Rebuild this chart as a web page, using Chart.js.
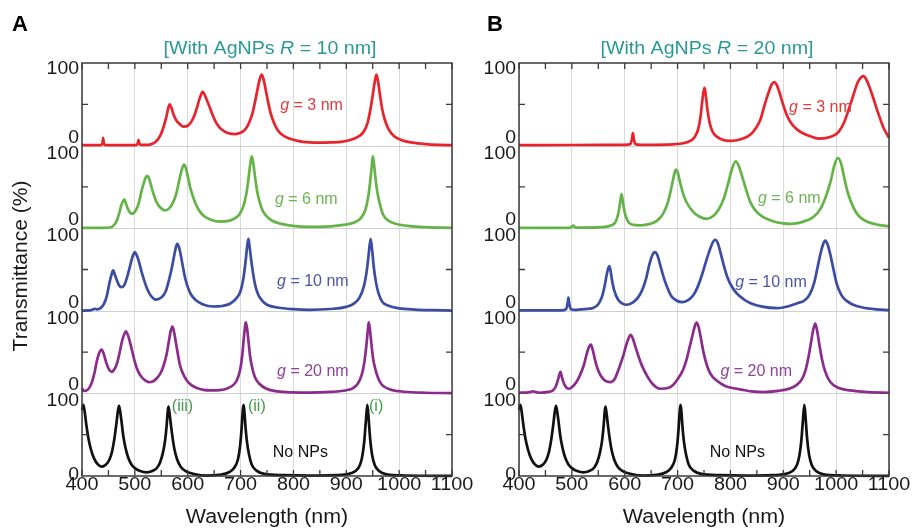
<!DOCTYPE html>
<html>
<head>
<meta charset="utf-8">
<script src="https://cdn.jsdelivr.net/npm/chart.js@4.4.1/dist/chart.umd.min.js"></script>
<style>
  html, body { margin: 0; padding: 0; background: #ffffff; }
  #wrap { position: relative; width: 912px; height: 530px; }
  #wrap canvas { position: absolute; left: 0; top: 0; }
</style>
</head>
<body>
<div id="wrap">
  <canvas id="panelA" width="912" height="530"></canvas>
  <canvas id="panelB" width="912" height="530"></canvas>
</div>
<script>
// ---- axis ticks ----
const wavelengthTicks = [400, 500, 600, 700, 800, 900, 1000, 1100];
const transmittanceTicks = [0, 100];

// ---- gap sizes of the four AgNP curves (nm), top to bottom ----
const gapSizes = [3, 6, 10, 20];

// ---- transmittance spectra: [wavelength (nm), T (%)] ----
const noNPs = [[400,80],[402.5,86],[405,78],[408,63],[412,46],[417,32],[423,21],[430,14],[437,11.3],[445,13.5],[452,20],[457,30],[461,44],[465,63],[468,79],[470,85],[472,79],[475,65],[478,49],[482,35],[487,23],[493,14.5],[500,9.5],[510,6],[522,4.4],[533,6],[542,10],[548,17],[553,28],[557,42],[560,60],[562,77],[563.5,84],[565,79],[568,63],[571,48],[575,32],[580,20],[587,11],[596,6],[610,2.8],[636,0.5],[660,1.5],[678,4.5],[688,10],[695,20],[699,36],[702,58],[704,78],[705.5,86],[707,80],[709,62],[712,42],[716,26],[721,14],[730,6.5],[745,2.5],[780,1],[830,0.5],[880,1],[910,3.5],[922,9],[929,20],[934,42],[937,66],[939.8,86],[942,72],[945,46],[949,25],[954,13],[962,6],[976,2],[1010,0.6],[1100,0.2]];

// R = 10 nm
const r10g3 = [[400,0.5],[430,0.5],[437,0.8],[439,4],[440,9.5],[441,4],[443,0.8],[460,0.5],[500,0.6],[504,1.2],[506,4],[507,6.8],[508,4],[510,1.2],[520,0.8],[530,1.5],[540,5],[548,12],[555,24],[560,36],[563,45],[566,50],[569,46],[573,38],[578,31],[585,26],[592,23],[600,24],[607,29],[613,37],[618,47],[622,56],[626,63],[628,65],[631,63],[635,57],[640,49],[646,39],[652,30],[660,22],[670,17],[680,14.5],[690,14],[700,15.5],[708,19],[715,26],[722,38],[728,55],[732,68],[736,80],[740,86],[744,79],[748,66],[752,53],[757,39],[763,28],[770,19],[780,12.5],[792,8.5],[810,5.5],[830,4],[850,3.5],[870,3.8],[890,4.5],[905,6.5],[920,10],[932,16],[940,27],[946,45],[950,61],[954,78],[957,86],[960,78],[964,60],[968,44],[973,31],[980,20],[990,11.5],[1005,6.5],[1025,3.6],[1050,1.8],[1075,0.9],[1100,0.5]];
const r10g6 = [[400,0.3],[440,0.4],[455,1.2],[460,3.5],[465,8],[470,17],[474,27],[477,32],[480,35],[483,30],[487,23],[491,19],[494,17.5],[498,18.5],[503,23],[508,32],[513,46],[518,57],[521,62],[524,63],[527,60],[531,51],[536,40],[541,31.5],[548,25],[557,21.5],[565,24],[572,31],[578,41],[584,58],[588,69],[591,75],[593,77],[596,74],[600,63],[604,51],[609,40],[614,31],[621,22],[630,15],[645,10],[661,8],[675,8.5],[688,11.5],[698,17],[706,28],[711,42],[715,60],[718,76],[721,87],[724,79],[727,64],[731,46],[736,32],[742,21],[750,14],[760,9],[775,5.5],[795,3.2],[830,1.6],[870,2.2],[895,4],[915,7],[928,12.5],[936,22],[941,36],[945,55],[948,74],[950,87],[952,80],[955,62],[959,43],[964,28],[970,16],[980,9],[995,5],[1020,2.5],[1050,1.3],[1100,0.4]];
const r10g10 = [[400,0.3],[415,0.5],[422,2],[425,2.5],[428,1.8],[435,3.2],[442,9],[447,18],[451,31],[455,42],[459,49],[462,44],[466,37],[470,31],[475,28.5],[480,31],[485,40],[490,52],[494,62],[497,68],[500,71],[503,68],[507,61],[512,49],[517,38],[523,27],[530,18.5],[540,13.5],[550,16],[558,23],[564,36],[569,49],[573,62],[577,75],[580,81],[583,78],[587,67],[591,53],[595,40],[600,29],[606,20],[615,13],[628,8],[648,5.2],[665,5.8],[680,8.5],[692,15],[700,24],[706,42],[710,63],[713,81],[715,87],[717,78],[720,62],[723,48],[727,33],[733,20],[740,13],[750,7.3],[770,4],[800,2],[830,1.2],[870,2.2],[900,4.8],[915,9],[925,16],[933,29],[938,45],[942,66],[946,87],[949,73],[952,53],[956,35],[961,21],[968,11],[980,6],[1000,3],[1030,1.5],[1060,0.8],[1100,0.3]];
const r10g20 = [[400,6],[404,3],[409,3.6],[414,7],[419,14],[424,26],[428,39],[432,48],[437,53],[441,48],[446,37],[451,29],[456,26],[461,29],[467,38],[472,52],[476,64],[480,72],[483,75],[486,72],[490,64],[495,51],[500,38],[506,27],[513,19.5],[520,15.5],[526,13.7],[534,14.5],[541,18],[549,25],[555,35],[560,47],[564,62],[568,76],[571,81],[574,75],[577,64],[581,49],[585,35],[591,24],[598,16],[607,10],[617,6.5],[630,4.2],[642,3.6],[660,4],[675,6],[686,10],[693,16],[699,28],[703,45],[706,66],[709,84],[710,86],[712,80],[715,63],[718,45],[722,31],[727,20],[735,12],[749,5.6],[770,2.5],[800,1.2],[830,0.9],[870,1.8],[900,3.8],[913,6.5],[922,12],[929,22],[934,37],[938,58],[941,78],[942.5,86],[945,76],[948,57],[951,41],[956,27],[961,17.5],[968,10],[983,4.8],[1010,2],[1050,0.8],[1100,0.4]];

// R = 20 nm
const r20g3 = [[400,0.6],[500,0.7],[600,0.9],[611,2],[614,9],[615.5,15],[617,9],[620,2],[630,0.9],[680,1.2],[710,2.8],[725,6],[733,11],[739,20],[743,33],[746,50],[749,65],[751,70],[753,63],[756,46],[759,33],[763,22],[768,15],[775,10.5],[785,7],[799,5.6],[812,6.5],[825,8.8],[838,13.5],[848,21],[857,32],[865,50],[872,64],[878,74],[883,77],[888,73],[893,64],[899,51],[906,38],[915,27],[927,19],[940,14],[955,10.5],[967,8.5],[980,9],[995,12],[1005,17],[1015,28],[1024,44],[1033,62],[1041,77],[1048,83],[1052,84],[1057,80],[1063,71],[1069,60],[1076,46],[1083,33],[1090,21],[1100,9.5]];
const r20g6 = [[400,0.3],[495,0.5],[500,2],[503,3],[506,1],[520,0.6],[555,1.2],[575,3.5],[583,8],[588,18],[591,30],[594,41.6],[597,30],[600,19],[605,9.5],[613,4.5],[630,3.5],[648,5.2],[662,9.5],[673,18],[682,32],[689,51],[694,66],[697,71],[700,68],[706,52],[713,37],[721,27],[730,19.5],[740,14.5],[755,11.3],[768,15],[778,23],[787,35],[796,55],[803,72],[810,81],[816,75],[822,63],[830,46],[838,31],[848,21],[862,13.3],[880,8.5],[900,5.8],[913,5.2],[930,6.5],[945,9.5],[957,13.5],[970,23],[982,41],[990,58],[997,77],[1003,85],[1009,79],[1015,62],[1020,48],[1028,32],[1037,20],[1046,13],[1060,7.5],[1080,4],[1100,2.4]];
const r20g10 = [[400,0.4],[480,0.5],[489,2],[492,9],[493.5,16],[495,9],[498,2],[505,1],[525,2],[540,3.5],[550,8],[557,17],[562,30],[566,44],[569,52],[571,54],[573,49],[576,37],[580,25],[587,14],[595,9],[604,7.3],[615,10],[625,16],[633,25],[640,38],[647,57],[652,67],[657,71],[662,67],[667,56],[673,42],[680,29],[688,18],[698,12.5],[708,10.5],[720,13],[730,19],[738,29],[746,43],[753,58],[760,72],[766,82],[771,86],[776,82],[781,71],[787,56],[794,41],[802,30],[812,21],[825,14],[837,9.5],[860,5],[888,3.2],[910,5.5],[928,9.5],[940,12.5],[950,20],[958,33],[964,50],[970,68],[975,80],[979.5,85],[984,80],[989,68],[995,50],[1001,33],[1010,19],[1020,12],[1030,8],[1050,4],[1075,1.8],[1100,0.8]];
const r20g20 = [[400,0.8],[415,1],[422,1.8],[427,2.4],[432,1.5],[440,0.8],[455,1.8],[464,3.6],[470,9],[474,17],[477,24],[478.6,26],[481,20],[485,12],[489,7.5],[493,5.6],[500,7.5],[509,14],[516,23],[523,35],[529,50],[533,57],[536,59],[539,54],[543,43],[548,31],[555,21],[563,15.5],[572,13.7],[581,17.5],[590,32],[597,45],[603,59],[608,68],[611,71],[615,67],[620,57],[626,45],[633,33],[642,21.5],[652,12],[667,5.6],[682,6.5],[692,10.5],[700,17],[710,28],[717,41],[722,54],[727,67],[732,80],[736,85.6],[740,80],[744,67],[749,50],[755,35],[762,24],[774,15.5],[790,9],[812,5.6],[840,2.5],[863,1.6],[890,3],[910,5.5],[925,10],[935,17],[942,28],[948,45],[953,64],[957,78],[960.5,84.4],[964,76],[968,60],[973,42],[979,27],[989,13.7],[1005,6.5],[1027,3.6],[1060,1.5],[1100,0.8]];

// ---- styling ----
const FONT = '"Liberation Sans", Arial, Helvetica, sans-serif';
const curveColors = ['#e8232b', '#63b347', '#3b4ca3', '#8b2c8d', '#111111'];
const labelColors = ['#e23a3a', '#6cb451', '#4a55a6', '#90409a', '#111111'];
const titleColor = '#2a9897';
const markerColor = '#3f9a4a';
const frameColor = '#3a3a3a';

function drawRich(ctx, segs, x, y, o) {
  const size = o.size, weight = o.weight || 'normal', sx = o.sx || 1;
  ctx.save();
  ctx.translate(x, y);
  if (o.rotate) ctx.rotate(o.rotate);
  ctx.scale(sx, 1);
  ctx.textBaseline = o.baseline || 'middle';
  ctx.textAlign = 'left';
  ctx.fillStyle = o.color || '#1a1a1a';
  const fontFor = s => (s.italic ? 'italic ' : '') + weight + ' ' + size + 'px ' + FONT;
  let total = 0;
  segs.forEach(s => { ctx.font = fontFor(s); total += ctx.measureText(s.t).width; });
  let cx = o.align === 'center' ? -total / 2 : (o.align === 'right' ? -total : 0);
  segs.forEach(s => { ctx.font = fontFor(s); ctx.fillText(s.t, cx, 0); cx += ctx.measureText(s.t).width; });
  ctx.restore();
}

const bandIds = ['band0', 'band1', 'band2', 'band3', 'band4'];

// frame, inward ticks, band separators and all text of one panel
const panelDecor = {
  id: 'panelDecor',
  beforeDatasetsDraw(chart) {
    const { ctx, chartArea: a } = chart;
    ctx.save();
    ctx.strokeStyle = '#cfcfcf';
    ctx.lineWidth = 1;
    bandIds.slice(0, 4).forEach(id => {
      const y = Math.round(chart.scales[id].getPixelForValue(0)) + 0.5;
      ctx.beginPath(); ctx.moveTo(a.left, y); ctx.lineTo(a.right, y); ctx.stroke();
    });
    ctx.restore();
  },
  afterDatasetsDraw(chart, args, opts) {
    const { ctx, chartArea: a } = chart;
    const xs = chart.scales.x;
    ctx.save();
    ctx.strokeStyle = frameColor;
    ctx.lineWidth = 1.5;
    ctx.strokeRect(a.left, a.top, a.right - a.left, a.bottom - a.top);
    ctx.lineWidth = 1.3;
    const tl = 6;
    const minor = [];
    wavelengthTicks.forEach((v, i) => {
      minor.push(v);
      if (i < wavelengthTicks.length - 1) minor.push((v + wavelengthTicks[i + 1]) / 2);
    });
    minor.forEach(v => {
      const px = xs.getPixelForValue(v);
      ctx.beginPath();
      ctx.moveTo(px, a.top); ctx.lineTo(px, a.top + tl);
      ctx.moveTo(px, a.bottom); ctx.lineTo(px, a.bottom - tl);
      ctx.stroke();
    });
    bandIds.forEach(id => {
      const py = chart.scales[id].getPixelForValue(50);
      ctx.beginPath();
      ctx.moveTo(a.left, py); ctx.lineTo(a.left + tl, py);
      ctx.moveTo(a.right, py); ctx.lineTo(a.right - tl, py);
      ctx.stroke();
    });
    ctx.restore();
  },
  afterDraw(chart, args, opts) {
    const { ctx, chartArea: a } = chart;
    const xs = chart.scales.x;
    // wavelength tick labels
    wavelengthTicks.forEach(v => {
      drawRich(ctx, [{ t: String(v) }], xs.getPixelForValue(v), a.bottom + 9,
        { size: 18, sx: 1.1, align: 'center' });
    });
    // transmittance tick labels for every band
    bandIds.forEach((id, i) => {
      const s = chart.scales[id];
      const top = s.getPixelForValue(transmittanceTicks[1]);
      const bot = s.getPixelForValue(transmittanceTicks[0]);
      drawRich(ctx, [{ t: String(transmittanceTicks[1]) }], a.left - 3, top + (i === 0 ? 6 : 8),
        { size: 18, sx: 1.08, align: 'right' });
      drawRich(ctx, [{ t: String(transmittanceTicks[0]) }], a.left - 3, bot + (i === 4 ? -1 : -8),
        { size: 18, sx: 1.08, align: 'right' });
    });
    // axis title and panel heading
    drawRich(ctx, [{ t: 'Wavelength (nm)' }], (a.left + a.right) / 2, a.bottom + 42,
      { size: 19.5, sx: 1.1, align: 'center' });
    drawRich(ctx, opts.title, (a.left + a.right) / 2 + opts.titleShift, 49,
      { size: 17.5, sx: 1.12, align: 'center', color: titleColor });
    drawRich(ctx, [{ t: opts.letter }], opts.letterX, 25,
      { size: 22, weight: 'bold', align: 'center', color: '#000' });
    if (opts.yTitle) {
      drawRich(ctx, [{ t: 'Transmittance (%)' }], 21, 266,
        { size: 20, sx: 1.05, align: 'center', rotate: -Math.PI / 2 });
    }
    // curve labels
    opts.labels.forEach(l => {
      const s = chart.scales[bandIds[l.band]];
      drawRich(ctx, l.segs, xs.getPixelForValue(l.at[0]), s.getPixelForValue(l.at[1]),
        { size: 16, align: 'left', color: l.color });
    });
  }
};

function gapLabel(g) { return [{ t: 'g', italic: true }, { t: ' = ' + g + ' nm' }]; }

function buildPanel(canvasId, series, pad, deco) {
  const scales = {
    x: {
      type: 'linear', min: 400, max: 1100,
      afterBuildTicks: s => { s.ticks = wavelengthTicks.map(v => ({ value: v })); },
      grid: { color: '#d9d9d9', lineWidth: 1, drawTicks: false },
      border: { display: false },
      ticks: { display: false },
      afterFit: s => { s.height = 0; }
    }
  };
  bandIds.forEach((id, i) => {
    scales[id] = {
      type: 'linear', position: 'left', stack: 'bands', stackWeight: 1, weight: 5 - i,
      min: 0, max: 100,
      grid: { display: false }, border: { display: false }, ticks: { display: false },
      afterFit: s => { s.width = 0; }
    };
  });
  return new Chart(document.getElementById(canvasId), {
    type: 'line',
    data: {
      datasets: series.map((arr, i) => ({
        data: arr.map(p => ({ x: p[0], y: p[1] })),
        yAxisID: bandIds[i],
        borderColor: curveColors[i],
        borderWidth: 2.7,
        borderJoinStyle: 'round',
        pointRadius: 0,
        cubicInterpolationMode: 'monotone',
        fill: false,
        clip: false
      }))
    },
    options: {
      responsive: false,
      animation: false,
      devicePixelRatio: 1,
      layout: { padding: pad },
      scales,
      plugins: { legend: { display: false }, tooltip: { enabled: false }, panelDecor: deco }
    },
    plugins: [panelDecor]
  });
}

const markerLabels = (nmI, nmII, nmIII) => [
  { band: 4, at: [nmIII, 84], segs: [{ t: '(iii)' }], color: markerColor },
  { band: 4, at: [nmII, 84], segs: [{ t: '(ii)' }], color: markerColor },
  { band: 4, at: [nmI, 84], segs: [{ t: '(i)' }], color: markerColor }
];

buildPanel('panelA', [r10g3, r10g6, r10g10, r10g20, noNPs],
  { left: 82, right: 460, top: 63, bottom: 54 },
  {
    letter: 'A', letterX: 20, yTitle: true, titleShift: 3,
    title: [{ t: '[With AgNPs ' }, { t: 'R', italic: true }, { t: ' = 10 nm]' }],
    labels: [
      { band: 0, at: [775, 48], segs: gapLabel(gapSizes[0]), color: labelColors[0] },
      { band: 1, at: [765, 35], segs: gapLabel(gapSizes[1]), color: labelColors[1] },
      { band: 2, at: [769, 35.5], segs: gapLabel(gapSizes[2]), color: labelColors[2] },
      { band: 3, at: [769, 27], segs: gapLabel(gapSizes[3]), color: labelColors[3] },
      { band: 4, at: [761, 28], segs: [{ t: 'No NPs' }], color: labelColors[4] }
    ].concat(markerLabels(943, 714, 570))
  });

buildPanel('panelB', [r20g3, r20g6, r20g10, r20g20, noNPs],
  { left: 519, right: 23, top: 63, bottom: 54 },
  {
    letter: 'B', letterX: 495, yTitle: false, titleShift: 3,
    title: [{ t: '[With AgNPs ' }, { t: 'R', italic: true }, { t: ' = 20 nm]' }],
    labels: [
      { band: 0, at: [911, 46], segs: gapLabel(gapSizes[0]), color: labelColors[0] },
      { band: 1, at: [852, 35.5], segs: gapLabel(gapSizes[1]), color: labelColors[1] },
      { band: 2, at: [809, 34.7], segs: gapLabel(gapSizes[2]), color: labelColors[2] },
      { band: 3, at: [781, 27], segs: gapLabel(gapSizes[3]), color: labelColors[3] },
      { band: 4, at: [761, 28], segs: [{ t: 'No NPs' }], color: labelColors[4] }
    ]
  });
</script>
</body>
</html>
